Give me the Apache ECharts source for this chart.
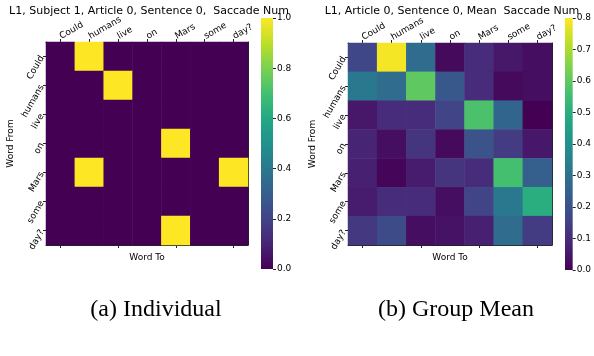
<!DOCTYPE html>
<html>
<head>
<meta charset="utf-8">
<script src="https://cdn.jsdelivr.net/npm/echarts@6/dist/echarts.min.js"></script>
<style>
  html, body { margin: 0; padding: 0; background: #fff; }
  #chart { width: 594px; height: 356px; }
</style>
</head>
<body>
<div id="chart"></div>
<script>
// words of the sentence (rows = Word From, columns = Word To)
const words = ['Could', 'humans', 'live', 'on', 'Mars', 'some', 'day?'];

// (a) individual saccade counts
const individual = [
  [0, 1, 0, 0, 0, 0, 0],
  [0, 0, 1, 0, 0, 0, 0],
  [0, 0, 0, 0, 0, 0, 0],
  [0, 0, 0, 0, 1, 0, 0],
  [0, 1, 0, 0, 0, 0, 1],
  [0, 0, 0, 0, 0, 0, 0],
  [0, 0, 0, 0, 1, 0, 0]
];

// (b) group mean saccade counts
const groupMean = [
  [0.17, 0.79, 0.28, 0.02, 0.10, 0.05, 0.03],
  [0.32, 0.28, 0.60, 0.22, 0.10, 0.02, 0.03],
  [0.05, 0.10, 0.10, 0.16, 0.57, 0.26, 0.00],
  [0.08, 0.03, 0.12, 0.02, 0.20, 0.14, 0.05],
  [0.07, 0.01, 0.06, 0.12, 0.10, 0.56, 0.24],
  [0.06, 0.10, 0.10, 0.03, 0.16, 0.32, 0.50],
  [0.13, 0.18, 0.03, 0.04, 0.07, 0.28, 0.14]
];

const leftTicks = { max: 1.0, step: 0.2 };
const rightTicks = { max: 0.8, step: 0.1 };

// viridis
const viridis = ['#440154', '#482475', '#414487', '#355f8d', '#2a788e', '#21918c',
  '#22a884', '#44bf70', '#7ad151', '#bddf26', '#fde725'];

const FONT = 'DejaVu Sans';

function toCells(m) {
  let out = [];
  m.forEach((row, r) => row.forEach((v, c) => out.push([c, r, v])));
  return out;
}

function gradient() {
  return new echarts.graphic.LinearGradient(0, 1, 0, 0,
    viridis.map((c, i) => ({ offset: i / (viridis.length - 1), color: c })));
}

let chart = echarts.init(document.getElementById('chart'));

const lineStyle = { color: '#222', width: 1 };
const tickStyle = { show: true, alignWithLabel: true, length: 3, lineStyle: { color: '#222' } };

function heatAxes(gi) {
  return {
    x: [
      {
        type: 'category', gridIndex: gi, data: words, position: 'top',
        axisLine: { lineStyle }, axisTick: tickStyle,
        axisLabel: { rotate: -30, fontFamily: FONT, fontSize: 9, color: '#000', margin: 5, interval: 0 },
        splitLine: { show: false }
      },
      {
        type: 'category', gridIndex: gi, data: words, position: 'bottom',
        name: 'Word To', nameLocation: 'middle', nameGap: 8,
        nameTextStyle: { fontFamily: FONT, fontSize: 9, color: '#000' },
        axisLine: { lineStyle }, axisTick: tickStyle, axisLabel: { show: false }
      }
    ],
    y: [
      {
        type: 'category', gridIndex: gi, data: words, inverse: true, position: 'left',
        name: 'Word From', nameLocation: 'middle', nameGap: 31, nameRotate: 90,
        nameTextStyle: { fontFamily: FONT, fontSize: 9, color: '#000' },
        axisLine: { lineStyle }, axisTick: tickStyle,
        axisLabel: { rotate: 60, fontFamily: FONT, fontSize: 9, color: '#000', margin: 4, interval: 0 }
      },
      {
        type: 'category', gridIndex: gi, data: words, inverse: true, position: 'right',
        axisLine: { lineStyle }, axisTick: { show: false }, axisLabel: { show: false }
      }
    ]
  };
}

function barAxes(gi, t) {
  return {
    x: { type: 'category', gridIndex: gi, data: [''], axisLine: { show: false },
         axisTick: { show: false }, axisLabel: { show: false } },
    y: { type: 'value', gridIndex: gi, min: 0, max: t.max, interval: t.step, position: 'right',
         axisLine: { show: false }, splitLine: { show: false },
         axisTick: { show: true, length: 3, lineStyle: { color: '#222' } },
         axisLabel: { fontFamily: FONT, fontSize: 9, color: '#000', margin: 4,
                      formatter: v => v.toFixed(1) } }
  };
}

const hL = heatAxes(0), bL = barAxes(1, leftTicks), hR = heatAxes(2), bR = barAxes(3, rightTicks);

let option = {
  animation: false,
  backgroundColor: '#fff',
  title: [
    { text: 'L1, Subject 1, Article 0, Sentence 0,  Saccade Num', left: 144, top: 1, textAlign: 'center',
      textStyle: { fontFamily: FONT, fontSize: 11, fontWeight: 'normal', color: '#000' } },
    { text: 'L1, Article 0, Sentence 0, Mean  Saccade Num', left: 447, top: 1, textAlign: 'center',
      textStyle: { fontFamily: FONT, fontSize: 11, fontWeight: 'normal', color: '#000' } },
    { text: '(a) Individual', left: 151, top: 293, textAlign: 'center',
      textStyle: { fontFamily: 'Liberation Serif', fontSize: 24, fontWeight: 'normal', color: '#000' } },
    { text: '(b) Group Mean', left: 451, top: 293, textAlign: 'center',
      textStyle: { fontFamily: 'Liberation Serif', fontSize: 24, fontWeight: 'normal', color: '#000' } }
  ],
  grid: [
    { left: 46, top: 42, width: 202, height: 203 },
    { left: 261, top: 18, width: 12, height: 251 },
    { left: 348, top: 43, width: 204, height: 202 },
    { left: 565, top: 18, width: 12, height: 252 }
  ],
  xAxis: [hL.x[0], hL.x[1], bL.x, hR.x[0], hR.x[1], bR.x],
  yAxis: [hL.y[0], hL.y[1], bL.y, hR.y[0], hR.y[1], bR.y],
  visualMap: [
    { show: false, type: 'continuous', seriesIndex: 0, min: 0, max: leftTicks.max, inRange: { color: viridis } },
    { show: false, type: 'continuous', seriesIndex: 2, min: 0, max: rightTicks.max, inRange: { color: viridis } }
  ],
  series: [
    { type: 'heatmap', xAxisIndex: 0, yAxisIndex: 0, data: toCells(individual) },
    { type: 'bar', xAxisIndex: 2, yAxisIndex: 2, barWidth: '100%', silent: true,
      data: [leftTicks.max], itemStyle: { color: gradient() } },
    { type: 'heatmap', xAxisIndex: 3, yAxisIndex: 3, data: toCells(groupMean) },
    { type: 'bar', xAxisIndex: 5, yAxisIndex: 5, barWidth: '100%', silent: true,
      data: [rightTicks.max], itemStyle: { color: gradient() } }
  ]
};

chart.setOption(option);
</script>
</body>
</html>
